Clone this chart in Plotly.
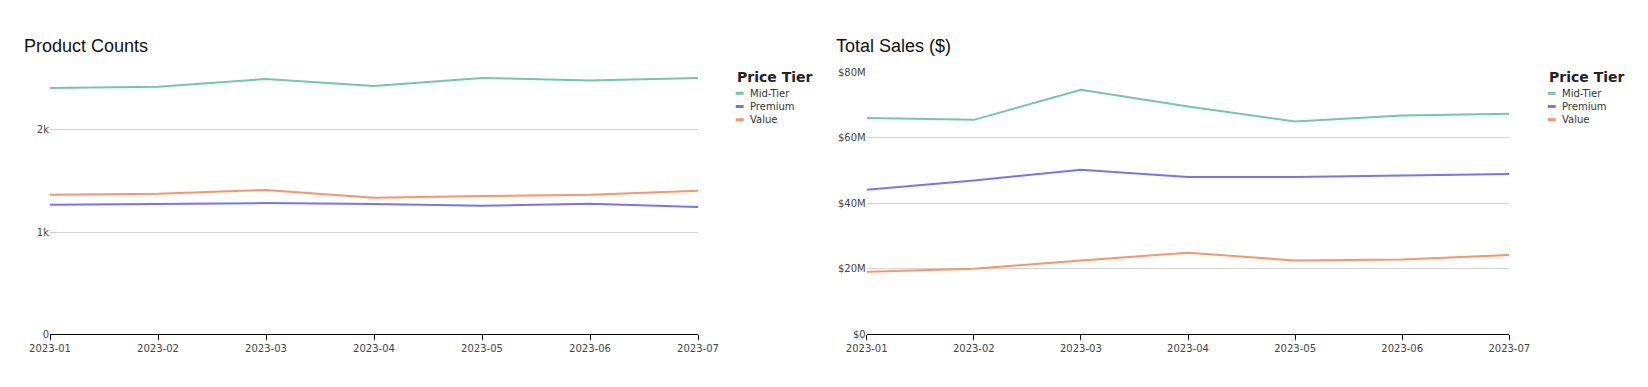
import plotly.graph_objects as go

W, H = 1648, 387

months = ["2023-01", "2023-02", "2023-03", "2023-04", "2023-05", "2023-06", "2023-07"]
tiers = ["Mid-Tier", "Premium", "Value"]
tier_colors = ["#70c8a8", "#7474fa", "#fc9465"]

counts_mid = [2408, 2421, 2496, 2428, 2506, 2480, 2506]
counts_premium = [1267, 1277, 1283, 1274, 1257, 1277, 1244]
counts_value = [1365, 1374, 1411, 1335, 1352, 1365, 1404]

sales_mid = [66.0e6, 65.4e6, 74.6e6, 69.5e6, 64.9e6, 66.7e6, 67.3e6]
sales_premium = [44.1e6, 46.9e6, 50.2e6, 48.0e6, 48.0e6, 48.4e6, 48.9e6]
sales_value = [19.1e6, 20.0e6, 22.5e6, 24.9e6, 22.5e6, 22.8e6, 24.2e6]

counts = [counts_mid, counts_premium, counts_value]
sales = [sales_mid, sales_premium, sales_value]


def px_x(p):
    return p / W


def px_y(p):
    return 1 - p / H


TICK_FONT = dict(family="DejaVu Sans, Verdana, sans-serif", size=10, color="#444")

fig = go.Figure()
for name, col, ys in zip(tiers, tier_colors, counts):
    fig.add_trace(go.Scatter(x=months, y=ys, mode="lines", name=name,
                             line=dict(color=col, width=2), xaxis="x", yaxis="y",
                             showlegend=False))
for name, col, ys in zip(tiers, tier_colors, sales):
    fig.add_trace(go.Scatter(x=months, y=ys, mode="lines", name=name,
                             line=dict(color=col, width=2), xaxis="x2", yaxis="y2",
                             showlegend=False))

ydom = [px_y(334.3), px_y(72)]
xcommon = dict(type="category", range=[0, 6], showline=True, linecolor="#000", linewidth=1,
               ticks="outside", ticklen=5, tickcolor="#000", showgrid=False,
               tickfont=TICK_FONT, zeroline=False, automargin=False)
ycommon = dict(showgrid=True, gridcolor="#d3d3d3", gridwidth=1, zeroline=False,
               showline=False, ticks="", tickfont=TICK_FONT, tickformat="~s", automargin=False)

fig.update_layout(
    width=W, height=H,
    autosize=False,
    margin=dict(l=0, r=0, t=0, b=0, pad=0, autoexpand=False),
    paper_bgcolor="white", plot_bgcolor="white",
    showlegend=False,
    xaxis=dict(domain=[px_x(50), px_x(698)], anchor="y", **xcommon),
    xaxis2=dict(domain=[px_x(866.7), px_x(1509.3)], anchor="y2", **xcommon),
    yaxis=dict(domain=ydom, range=[0, 2564], anchor="x", dtick=1000, **ycommon),
    yaxis2=dict(domain=ydom, range=[0, 80e6], anchor="x2", dtick=20e6, tickprefix="$", **ycommon),
)

# Chart titles
titles = [("Product Counts", 22), ("Total Sales ($)", 834)]
for text, x0 in titles:
    fig.add_annotation(text=text, xref="paper", yref="paper", x=px_x(x0), y=px_y(46),
                       xanchor="left", yanchor="middle", showarrow=False,
                       font=dict(family="Liberation Sans, Arial, sans-serif", size=18, color="#111"))

# Legends (one per chart)
item_y = [93.3, 106.5, 119.7]
for lx in [735.7, 1547.7]:
    fig.add_annotation(text="<b>Price Tier</b>", xref="paper", yref="paper",
                       x=px_x(lx - 1), y=px_y(76.7), xanchor="left", yanchor="middle",
                       showarrow=False,
                       font=dict(family="DejaVu Sans, Verdana, sans-serif", size=14, color="#222"))
    for name, col, iy in zip(tiers, tier_colors, item_y):
        fig.add_shape(type="rect", xref="paper", yref="paper",
                      x0=px_x(lx), x1=px_x(lx + 8), y0=px_y(iy + 1.5), y1=px_y(iy - 1.5),
                      fillcolor=col, line=dict(width=0))
        fig.add_annotation(text=name, xref="paper", yref="paper",
                           x=px_x(lx + 12), y=px_y(iy), xanchor="left", yanchor="middle",
                           showarrow=False,
                           font=dict(family="DejaVu Sans, Verdana, sans-serif", size=10, color="#333"))

fig.write_html("out.html",
               config={"displayModeBar": False},
               post_script="document.body.style.margin='0';document.body.style.overflow='hidden';")
